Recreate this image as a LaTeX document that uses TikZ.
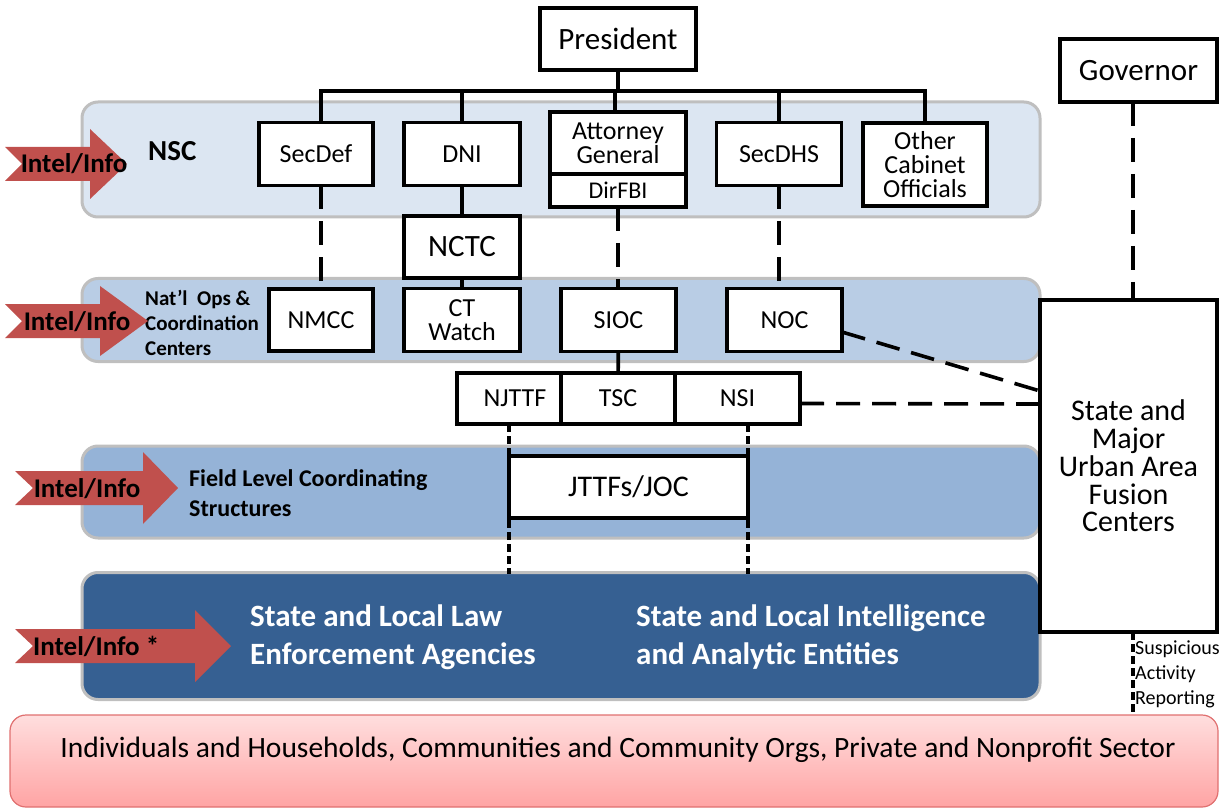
\documentclass[tikz,border=0pt]{standalone}
\usepackage{fontspec}
\setmainfont{Carlito}
\definecolor{nscfill}{HTML}{DCE6F2}
\definecolor{opsfill}{HTML}{B9CDE5}
\definecolor{fieldfill}{HTML}{95B3D7}
\definecolor{localfill}{HTML}{366092}
\definecolor{bandline}{HTML}{BFBFBF}
\definecolor{infored}{HTML}{C0504D}
\definecolor{pinktop}{HTML}{FFDEDE}
\definecolor{pinkbot}{HTML}{FFA4A4}
\definecolor{pinkline}{HTML}{E07070}
\newcommand\fsz[2]{\fontsize{#1}{#2}\selectfont}
% arrow: name, left x, notch x, head x, tip x, mid y, shaft half, head half
\newcommand\infoarrow[8]{%
  \fill[infored] (#2,#6-#7) -- (#4,#6-#7) -- (#4,#6-#8) -- (#5,#6)
    -- (#4,#6+#8) -- (#4,#6+#7) -- (#2,#6+#7) -- (#3,#6) -- cycle;
  \coordinate (#1) at (#3,#6);}
\tikzset{
  unit/.style={draw, line width=3.4pt, fill=white, inner sep=0pt, outer sep=0pt,
    align=center, font=\fsz{26}{24}},
  band/.style={draw=bandline, line width=3pt, rounded corners=16pt,
    minimum width=958pt, inner sep=0pt},
  tree/.style={line width=3.6pt},
  link/.style={line width=3.6pt, dash pattern=on 24pt off 12pt},
  fine/.style={line width=3.6pt, dash pattern=on 8pt off 4pt},
  infotext/.style={font=\fsz{27}{27}\bfseries, inner sep=0pt},
  bandtext/.style={anchor=west, align=left, inner sep=0pt}
}
\begin{document}
\begin{tikzpicture}[x=1pt, y=-1pt]
  \useasboundingbox (0,0) rectangle (1231,810);

  % bands
  \node[band, fill=nscfill, minimum height=115pt] (nscband) at (561,159.5) {};
  \node[band, fill=opsfill, minimum height=83pt] (opsband) at (561,320) {};
  \node[band, fill=fieldfill, minimum height=92pt] (fieldband) at (561,492) {};
  \node[band, fill=localfill, minimum height=127pt] (localband) at (561,636) {};
  \node[draw=pinkline, line width=1.2pt, rounded corners=16pt, top color=pinktop,
    bottom color=pinkbot, minimum width=1208pt, minimum height=92pt,
    inner sep=0pt] (publicbox) at (614,761) {};
  \node[font=\fsz{29.5}{29.5}] (publictext) at (618,750) {Individuals and Households, Communities and Community Orgs, Private and Nonprofit Sector};

  % band labels
  \node[bandtext, font=\fsz{29}{29}\bfseries] (nsclabel) at (148,151) {NSC};
  \node[bandtext, font=\fsz{21}{25}\bfseries] (opslabel) at (145,323) {Nat'l~ Ops \&\\Coordination\\Centers};
  \node[bandtext, font=\fsz{24}{30}\bfseries] (fieldlabel) at (189,493) {Field Level Coordinating\\Structures};
  \node[bandtext, font=\fsz{31}{38}\bfseries, text=white] (lawlabel) at (250,637) {State and Local Law\\Enforcement Agencies};
  \node[bandtext, font=\fsz{31}{38}\bfseries, text=white] (intellabel) at (636,637) {State and Local Intelligence\\and Analytic Entities};

  % Intel/Info arrows
  \infoarrow{arrowa}{5}{22}{90}{127}{164}{17}{35}
  \infoarrow{arrowb}{5}{22}{100}{148}{321}{17}{35}
  \infoarrow{arrowc}{15}{33}{143}{178}{488}{17}{36}
  \infoarrow{arrowd}{15}{33}{195}{231}{646}{17}{36}
  \node[infotext] (infoa) at (74,164) {Intel/Info};
  \node[infotext] (infob) at (77,322) {Intel/Info};
  \node[infotext] (infoc) at (87,489) {Intel/Info};
  \node[infotext, anchor=west] (infod) at (33,646) {Intel/Info *};

  % tree lines
  \coordinate (treemid) at (618,91);
  \draw[tree] (321,122) |- (925,91) -- (925,122);
  \draw[tree] (618,70) -- (treemid);
  \draw[tree] (462,91) -- (462,122);
  \draw[tree] (615,91) -- (615,112);
  \draw[tree] (779,91) -- (779,122);

  % NSC members
  \node[unit, font=\fsz{31}{31}, minimum width=156pt, minimum height=62pt] (president) at (618,39) {President};
  \node[unit, font=\fsz{31}{31}, minimum width=157pt, minimum height=63pt] (governor) at (1138.5,70.5) {Governor};
  \node[unit, minimum width=114pt, minimum height=63pt] (secdef) at (316,154) {SecDef};
  \node[unit, minimum width=116pt, minimum height=63pt] (dni) at (462,154) {DNI};
  \node[unit, minimum width=136pt, minimum height=62pt] (attgen) at (618,143) {Attorney\\General};
  \node[unit, font=\fsz{24}{24}, minimum width=136pt, minimum height=33pt, anchor=north] (dirfbi) at (attgen.south) {DirFBI};
  \node[unit, minimum width=125pt, minimum height=63pt] (secdhs) at (779,154) {SecDHS};
  \node[unit, minimum width=124pt, minimum height=83pt] (othercab) at (925,164.5) {Other\\Cabinet\\Officials};

  % ops centers
  \node[unit, font=\fsz{31}{31}, minimum width=116pt, minimum height=62pt] (nctc) at (462,247) {NCTC};
  \node[unit, minimum width=104pt, minimum height=62pt] (nmcc) at (321,320) {NMCC};
  \node[unit, minimum width=116pt, minimum height=63pt] (ctwatch) at (462,320) {CT\\Watch};
  \node[unit, minimum width=115pt, minimum height=63pt] (sioc) at (618.5,320) {SIOC};
  \node[unit, minimum width=115pt, minimum height=63pt] (noc) at (784.5,320) {NOC};

  % NJTTF / TSC / NSI
  \node[unit, minimum width=104pt, minimum height=51pt] (njttf) at (509,398.5) {\hspace*{12pt}NJTTF};
  \node[unit, minimum width=114pt, minimum height=51pt] (tsc) at (618,398.5) {TSC};
  \node[unit, minimum width=125pt, minimum height=51pt] (nsi) at (737.5,398.5) {NSI};

  % fusion centers
  \node[unit, font=\fsz{30}{27.7}, minimum width=177pt, minimum height=332pt] (fusion) at (1128.5,466) {State and\\Major\\Urban Area\\Fusion\\Centers};

  % links
  \draw[tree] (dni) -- (nctc);
  \draw[tree] (nctc) -- (ctwatch);
  \draw[tree] (sioc) -- (tsc);
  \draw[link] (secdef.south -| nmcc) -- (nmcc);
  \draw[link] (dirfbi) -- (sioc.north -| dirfbi);
  \draw[link] (secdhs) -- (secdhs |- noc.north);
  \draw[link] (governor.south -| 1133,0) -- (fusion.north -| 1133,0);
  \draw[link] (noc.east) ++(0,12) -- (fusion.west |- 0,391);
  \draw[link] (nsi.east) ++(0,5) -- (fusion.west |- 0,404);

  % field lines
  \coordinate (leftfoot) at (509,574);
  \coordinate (rightfoot) at (748,574);
  \draw[fine] (509,424) -- (leftfoot);
  \draw[fine] (748,424) -- (rightfoot);
  \node[unit, font=\fsz{30}{30}, minimum width=239pt, minimum height=62pt] (jttf) at (628.5,487) {JTTFs/JOC};

  % suspicious activity reporting
  \coordinate (sarfoot) at (1133,713);
  \draw[fine] (fusion.south -| sarfoot) -- (sarfoot);
  \node[anchor=north west, align=left, inner sep=0pt, font=\fsz{20}{25}] (sarlabel) at (1135,641) {Suspicious\\Activity\\Reporting};
\end{tikzpicture}
\end{document}
